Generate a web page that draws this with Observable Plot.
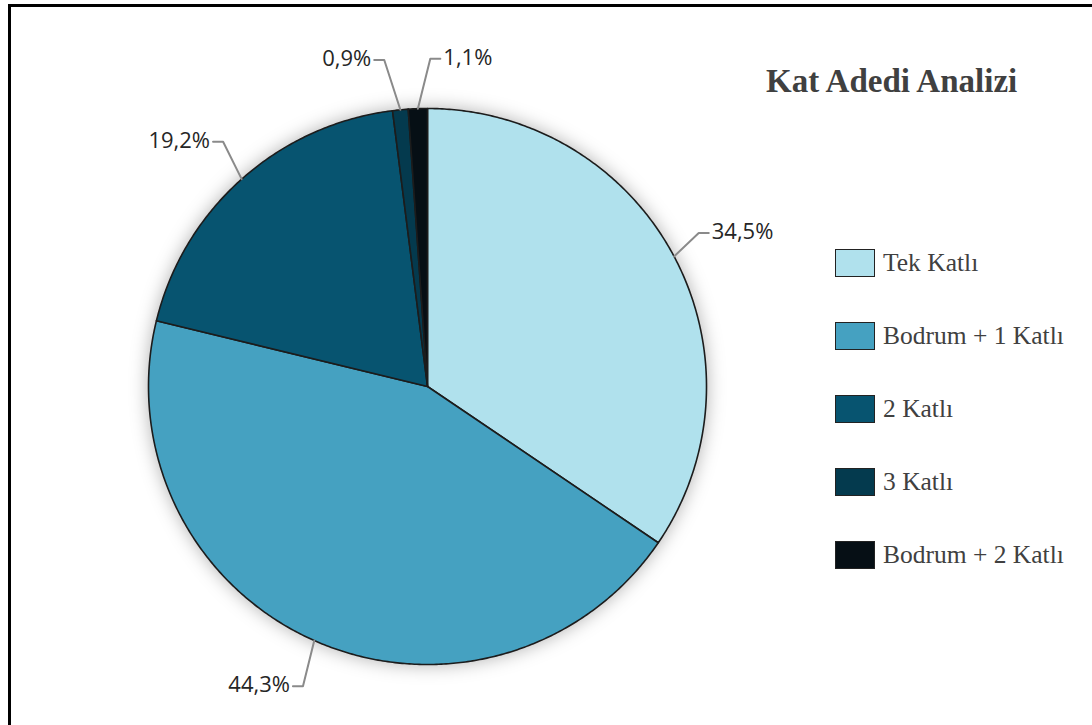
<!DOCTYPE html>
<html><head><meta charset="utf-8">
<script src="https://cdn.jsdelivr.net/npm/d3@7"></script>
<script src="https://cdn.jsdelivr.net/npm/@observablehq/plot@0.6"></script>
<style>
body{margin:0;background:#fff;overflow:hidden;width:1092px;height:725px;position:relative;}
#frame{position:absolute;left:8px;top:4px;width:1200px;height:800px;border:3px solid #000;box-sizing:border-box;pointer-events:none;}
#chart{position:absolute;left:0;top:0;}
#title{position:absolute;left:766px;top:63px;font:bold 33px "Liberation Serif";color:#404040;white-space:nowrap;}
.leg{position:absolute;left:835px;display:flex;align-items:center;font:25.5px "Liberation Serif";color:#404040;white-space:nowrap;height:29px;}
.sw{width:38px;height:26px;border:1.5px solid #222;margin-right:8px;}
</style></head>
<body>
<div id="chart"></div>
<div id="title"></div>
<div id="legend"></div>
<div id="frame"></div>
<script>
const names = ["Tek Katlı", "Bodrum + 1 Katlı", "2 Katlı", "3 Katlı", "Bodrum + 2 Katlı"];
const values = [34.5, 44.3, 19.2, 0.9, 1.1];
const colors = ["#b0e1ed", "#45a1c1", "#075470", "#043a4e", "#060f15"];
const chartTitle = "Kat Adedi Analizi";

const total = d3.sum(values);
let acc = 0;
const slices = names.map((name, i) => {
  const a0 = acc / total * 2 * Math.PI;
  acc += values[i];
  const a1 = acc / total * 2 * Math.PI;
  return {name, value: values[i], a0, a1, mid: (a0 + a1) / 2};
});

// pie polygons
const piePts = [];
for (const s of slices) {
  piePts.push({name: s.name, x: 0, y: 0});
  const steps = Math.max(2, Math.ceil((s.a1 - s.a0) / (Math.PI / 360)));
  for (let k = 0; k <= steps; k++) {
    const a = s.a0 + (s.a1 - s.a0) * k / steps;
    piePts.push({name: s.name, x: Math.sin(a), y: Math.cos(a)});
  }
}

// label layout (elliptical placement, then spread crowded labels)
const LRX = 1.1, LRY = 1.18, SEG = 0.036, MINGAP = 0.165;
const labels = slices.map(s => ({
  name: s.name,
  text: s.value.toFixed(1).replace(".", ",") + "%",
  ax: Math.sin(s.mid), ay: Math.cos(s.mid),
  ex: LRX * Math.sin(s.mid), ey: LRY * Math.cos(s.mid),
  side: Math.sin(s.mid) >= 0 ? 1 : -1
}));
for (let i = 0; i < labels.length; i++) {
  for (let j = i + 1; j < labels.length; j++) {
    const A = labels[i], B = labels[j];
    if (Math.abs(A.ey - B.ey) < 0.1 && Math.abs(A.ex - B.ex) < MINGAP) {
      const m = (A.ex + B.ex) / 2;
      const [L, R] = A.ex <= B.ex ? [A, B] : [B, A];
      L.ex = m - MINGAP / 2; R.ex = m + MINGAP / 2;
      L.side = -1; R.side = 1;
    }
  }
}
const leaderPts = [];
for (const l of labels) {
  l.tx = l.ex + l.side * SEG;
  leaderPts.push({name: l.name, x: l.ax, y: l.ay});
  leaderPts.push({name: l.name, x: l.ex, y: l.ey});
  leaderPts.push({name: l.name, x: l.tx, y: l.ey});
}

const textOpts = {x: "tx", y: "ey", text: "text", fontFamily: "Open Sans", fontSize: 22, fill: "#262626", dy: -1};
const plot = Plot.plot({
  width: 1092, height: 725, margin: 0,
  x: {domain: [-1, 1], range: [148, 706], axis: null},
  y: {domain: [-1, 1], range: [664, 108], axis: null},
  color: {domain: names, range: colors},
  marks: [
    Plot.line(piePts, {x: "x", y: "y", z: "name", fill: "name", stroke: "#1c1c1c", strokeWidth: 1.6, curve: "linear-closed", strokeLinejoin: "round"}),
    Plot.line(leaderPts, {x: "x", y: "y", z: "name", stroke: "#8a8a8a", strokeWidth: 2}),
    Plot.text(labels.filter(l => l.side > 0), {...textOpts, textAnchor: "start", dx: 3}),
    Plot.text(labels.filter(l => l.side < 0), {...textOpts, textAnchor: "end", dx: -3})
  ]
});
d3.select(plot).select('g[aria-label="line"]').style("filter", "drop-shadow(0px 0px 9px rgba(0,0,0,0.3))");
document.getElementById("chart").appendChild(plot);
document.getElementById("title").textContent = chartTitle;

const legend = document.getElementById("legend");
names.forEach((n, i) => {
  const row = document.createElement("div");
  row.className = "leg";
  row.style.top = (248 + i * 73) + "px";
  const sw = document.createElement("div");
  sw.className = "sw";
  sw.style.background = colors[i];
  row.appendChild(sw);
  const t = document.createElement("span");
  t.textContent = n;
  row.appendChild(t);
  legend.appendChild(row);
});
</script>
</body></html>
